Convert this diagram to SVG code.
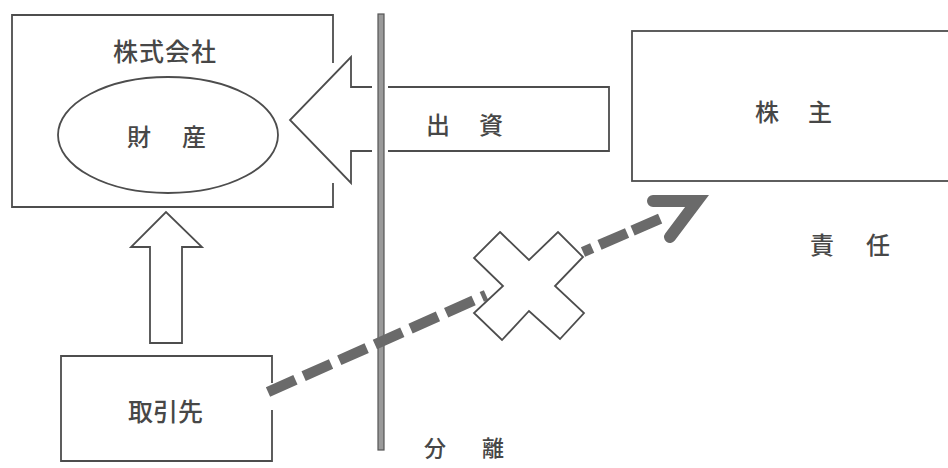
<svg xmlns="http://www.w3.org/2000/svg" width="948" height="468" viewBox="0 0 948 468">
<style>
.ln{fill:none;stroke:#4d4d4d;stroke-width:1.8;stroke-linejoin:miter}
.wf{fill:#fff;stroke:#4d4d4d;stroke-width:1.8;stroke-linejoin:miter}
.t{font-family:"Noto Sans CJK JP","Noto Sans CJK SC",sans-serif;fill:#474747;font-size:24px;font-weight:500;dominant-baseline:central}
.dash{fill:none;stroke:#6a6a6a;stroke-width:10.5}
</style>
<rect width="948" height="468" fill="#fff"/>
<g id="kabushikigaisha">
<path class="ln" d="M333,63 L333,15 L12,15 L12,207 L333,207 L333,183"/>
<text class="t" x="113" y="50" style="font-size:25px;letter-spacing:1px">株式会社</text>
</g>
<g id="zaisan">
<ellipse class="ln" cx="168" cy="135" rx="110" ry="58"/>
<text class="t" x="127 153 182" y="135">財 産</text>
</g>
<g id="torihikisaki">
<path class="ln" d="M272,383 L272,356 L61,356 L61,461 L272,461 L272,410"/>
<text class="t" x="128" y="410" style="font-size:25px">取引先</text>
</g>
<g id="kabunushi">
<rect class="ln" x="632" y="31" width="330" height="150"/>
<text class="t" x="755 781 808" y="110">株 主</text>
</g>
<g id="connectors">
<rect x="378" y="14" width="6" height="436" fill="#9a9a9a" stroke="#555" stroke-width="1.2"/>
<path class="wf" d="M372,87 L351,87 L351,57 L290,120 L351,183 L351,151 L372,151"/>
<path class="ln" d="M388,87 L609,87 L609,151 L388,151"/>
<polygon class="wf" points="150,343 150,247 131,247 166,212 202,247 182,247 182,343"/>
<path class="dash" d="M268,392 L486,295" stroke-dasharray="30 9"/>
<path class="dash" d="M583,252 L664,217" stroke-dasharray="10 8 30 6 30"/>
<path d="M653,201 L697,201 L670,237" fill="none" stroke="#6a6a6a" stroke-width="12" stroke-linecap="round" stroke-linejoin="miter"/>
<polygon class="wf" points="500,232 529,260 558,232 583,257 555,286 584,313 560,339 529,311 502,340 474,313 503,286 474,258"/>
</g>
<g id="labels">
<text class="t" x="426 452 479" y="123">出 資</text>
<text class="t" x="810 837 866" y="243">責 任</text>
<text class="t" x="424 450 482" y="446" style="font-size:22px">分 離</text>
</g>
</svg>
